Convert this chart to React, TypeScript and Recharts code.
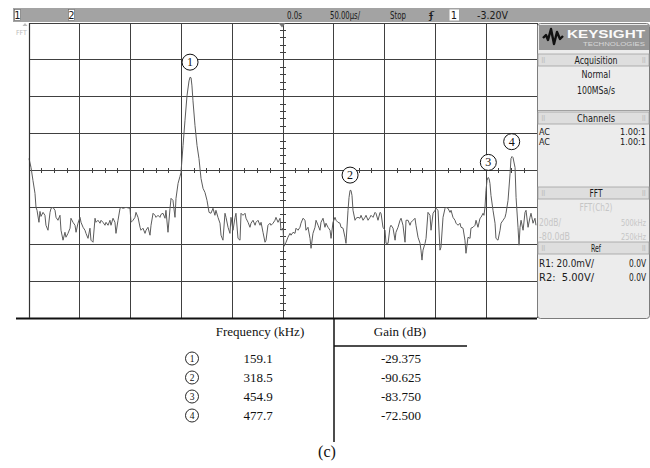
import React from 'react';
import { LineChart, Line, XAxis, YAxis, ReferenceLine, ReferenceDot } from 'recharts';

// FFT trace: [frequency kHz, level dB]
const trace: [number, number][] = [
  [0.0, -73.5], [2.0, -78.4], [3.9, -85.4], [5.9, -92.4], [6.9, -100.0], [7.9, -101.6], [9.8, -108.1], [10.8, -102.2],
  [11.8, -104.9], [13.8, -102.7], [15.7, -104.3], [16.7, -109.7], [18.7, -112.4], [20.7, -102.7], [21.7, -100.5], [23.6, -100.0],
  [25.6, -101.6], [26.6, -105.4], [28.5, -107.0], [30.5, -104.3], [31.5, -112.4], [33.5, -117.8], [35.4, -113.5], [36.4, -116.2],
  [38.4, -114.1], [40.4, -111.3], [41.3, -105.9], [43.3, -108.1], [45.3, -109.7], [46.3, -113.5], [48.2, -108.6], [50.2, -105.4],
  [51.2, -108.1], [53.2, -110.8], [55.1, -112.4], [56.1, -114.1], [58.1, -116.8], [60.0, -111.3], [61.0, -117.8], [63.0, -118.9],
  [65.0, -105.9], [65.9, -108.1], [67.9, -107.0], [69.9, -108.6], [70.9, -107.0], [72.8, -108.1], [74.8, -109.7], [75.8, -108.1],
  [77.8, -109.7], [79.7, -107.0], [80.7, -109.7], [82.7, -105.9], [84.6, -108.1], [85.6, -114.1], [87.6, -107.0], [89.6, -100.5],
  [90.6, -100.0], [92.5, -100.5], [95.5, -100.0], [99.4, -100.5], [100.4, -108.1], [102.4, -107.0], [104.3, -105.4], [105.3, -102.7],
  [107.3, -105.4], [109.3, -110.8], [110.2, -112.4], [112.2, -111.3], [114.2, -114.1], [115.2, -112.4], [117.1, -110.8], [119.1, -115.1],
  [120.1, -109.7], [122.1, -103.2], [124.0, -104.3], [125.0, -105.4], [127.0, -104.3], [128.9, -105.4], [129.9, -103.8], [131.9, -103.2],
  [133.9, -105.9], [134.8, -101.6], [136.8, -113.5], [138.8, -100.5], [139.8, -95.1], [141.7, -96.2], [143.7, -105.4], [144.7, -95.1],
  [146.7, -87.0], [148.6, -83.2], [149.6, -81.1], [151.6, -66.5], [153.5, -53.0], [155.5, -39.5], [157.5, -31.4], [158.5, -29.4],
  [159.5, -29.7], [160.4, -34.1], [161.4, -42.2], [163.4, -55.7], [165.4, -66.5], [167.3, -73.5], [169.3, -84.3], [171.3, -89.7],
  [173.2, -91.9], [175.2, -96.2], [177.2, -102.7], [179.1, -103.2], [181.1, -100.5], [183.0, -104.3], [184.0, -101.6], [186.0, -105.4],
  [188.0, -108.6], [189.0, -115.1], [190.9, -117.8], [192.9, -103.2], [193.9, -105.4], [195.9, -110.8], [197.8, -114.1], [198.8, -105.4],
  [200.8, -112.4], [202.8, -105.4], [203.7, -103.2], [205.7, -116.8], [207.7, -117.8], [208.7, -103.2], [210.6, -104.3], [212.6, -103.2],
  [213.6, -105.9], [215.6, -108.1], [217.5, -110.8], [218.5, -108.6], [220.5, -107.0], [222.5, -109.7], [223.4, -108.1], [225.4, -107.0],
  [227.4, -109.7], [228.4, -108.1], [230.3, -113.5], [232.3, -118.9], [233.3, -117.8], [235.2, -109.7], [237.2, -108.6], [238.2, -109.7],
  [240.2, -108.6], [242.1, -107.0], [243.1, -105.4], [245.1, -108.1], [247.1, -105.9], [248.0, -112.4], [250.0, -111.3], [251.0, -121.1],
  [253.0, -118.9], [254.9, -116.2], [256.9, -114.1], [257.9, -115.1], [259.9, -113.5], [261.8, -114.1], [262.8, -111.3], [264.8, -112.4],
  [266.7, -110.8], [267.7, -108.6], [269.7, -105.9], [271.7, -107.0], [272.6, -112.4], [274.6, -110.8], [276.6, -116.8], [277.6, -122.2],
  [279.5, -114.1], [281.5, -110.8], [282.5, -107.0], [284.5, -109.7], [286.4, -112.4], [287.4, -108.1], [289.4, -105.9], [291.3, -110.8],
  [292.3, -108.6], [294.3, -110.8], [296.3, -112.4], [297.3, -116.8], [299.2, -108.1], [301.2, -105.4], [302.2, -107.0], [304.1, -108.1],
  [306.1, -108.6], [307.1, -110.8], [309.1, -111.3], [311.0, -116.2], [312.0, -119.5], [314.0, -101.6], [315.0, -94.6], [316.0, -90.8],
  [316.9, -90.8], [317.9, -93.5], [318.9, -101.6], [320.9, -107.0], [321.9, -105.9], [323.8, -105.4], [325.8, -105.9], [326.8, -104.3],
  [328.8, -107.0], [330.7, -105.4], [331.7, -104.3], [333.7, -107.0], [335.6, -105.4], [336.6, -104.3], [338.6, -105.4], [340.6, -102.7],
  [341.5, -103.2], [343.5, -107.0], [345.5, -102.7], [346.5, -103.2], [348.4, -110.8], [350.4, -112.4], [351.4, -119.5], [353.4, -119.5],
  [355.3, -110.8], [356.3, -109.7], [358.3, -111.3], [360.3, -117.8], [361.2, -113.5], [363.2, -110.8], [365.2, -107.0], [366.2, -105.9],
  [368.1, -109.7], [370.1, -118.9], [371.1, -107.0], [373.1, -107.0], [375.0, -109.7], [376.0, -108.1], [378.0, -107.0], [379.9, -105.9],
  [380.9, -109.7], [382.9, -116.2], [384.9, -119.5], [385.8, -123.2], [386.8, -128.6], [387.8, -123.2], [389.8, -119.5], [390.8, -116.8],
  [392.7, -102.7], [394.7, -104.3], [395.7, -112.4], [397.7, -103.2], [399.6, -101.6], [400.6, -100.5], [402.6, -101.6], [404.5, -123.2],
  [405.5, -121.6], [407.5, -105.4], [409.5, -100.5], [410.4, -100.0], [412.4, -100.5], [414.4, -102.7], [415.4, -101.6], [417.3, -105.4],
  [419.3, -107.0], [420.3, -108.6], [422.3, -109.7], [424.2, -108.6], [425.2, -110.8], [427.2, -111.3], [429.1, -117.8], [430.1, -124.9],
  [432.1, -116.2], [434.1, -116.8], [435.0, -111.3], [437.0, -110.8], [439.0, -109.7], [440.0, -107.0], [441.9, -110.8], [443.9, -105.9],
  [444.9, -105.4], [446.9, -103.2], [447.8, -104.3], [448.8, -100.0], [449.8, -90.8], [450.8, -85.4], [451.8, -83.8], [452.8, -84.3],
  [453.7, -87.0], [454.7, -93.5], [456.7, -101.6], [458.7, -108.6], [459.6, -116.8], [461.6, -117.8], [463.6, -112.4], [464.6, -108.6],
  [466.6, -107.0], [468.5, -105.4], [469.5, -103.2], [471.5, -96.2], [473.5, -81.6], [474.4, -73.5], [475.4, -72.4], [476.4, -73.0],
  [478.4, -78.4], [479.4, -94.6], [481.3, -110.8], [482.3, -120.5], [483.3, -110.8], [484.3, -107.0], [486.3, -112.4], [488.2, -102.7],
  [489.2, -101.6], [491.2, -110.8], [493.1, -105.4], [494.1, -103.2], [496.1, -108.6], [498.0, -105.9], [499.0, -109.7],
];

// marked peaks (table below the screen)
const peakNo = [1, 2, 3, 4];
const peakFreq = [159.1, 318.5, 454.9, 477.7];
const peakGain = [-29.375, -90.625, -83.75, -72.5];
// where the circled labels sit on the screen (kHz)
const markerFreq = [158.5, 316.0, 452.1, 475.1];

const freqDivs = [0, 50, 100, 150, 200, 250, 300, 350, 400, 450, 500];
const gainDivs = [-160, -140, -120, -100, -80, -60, -40, -20, 0];

const data = trace.map(([f, g]) => ({ f, g }));

const minorF: number[] = [];
for (let f = 12.5; f < 500; f += 12.5) if (f % 50 !== 0) minorF.push(f);
const minorG: number[] = [];
for (let g = -156; g < 0; g += 4) if (g % 20 !== 0) minorG.push(g);

const UI = "'Liberation Sans Narrow', 'DejaVu Sans Condensed', sans-serif";
const SERIF = "'Liberation Serif', 'Times New Roman', serif";
const GRID = '#404040';

const PeakMark = (n: number) => (props: any) => (
  <g>
    <circle cx={props.cx} cy={props.cy - 15} r={8} fill="#fff" stroke="#111" strokeWidth={1} />
    <text x={props.cx} y={props.cy - 11} textAnchor="middle" fontSize={12} fontFamily={SERIF} fill="#111">
      {n}
    </text>
  </g>
);

// scope-style text; with a width w the glyphs are squeezed into it (always laid out from the left)
const T = (p: { x: number; y: number; w?: number; a?: 'start' | 'middle' | 'end'; c?: string; s?: number; children: any }) => {
  const a = p.a || 'start';
  if (p.w) {
    const x0 = a === 'end' ? p.x - p.w : a === 'middle' ? p.x - p.w / 2 : p.x;
    return (
      <text
        x={x0}
        y={p.y}
        fontSize={p.s || 11}
        fontFamily={UI}
        fill={p.c || '#1a1a1a'}
        textLength={p.w}
        lengthAdjust="spacingAndGlyphs"
        style={{ whiteSpace: 'pre' }}
      >
        {p.children}
      </text>
    );
  }
  return (
    <text x={p.x} y={p.y} textAnchor={a} fontSize={p.s || 11} fontFamily={UI} fill={p.c || '#1a1a1a'}>
      {p.children}
    </text>
  );
};

const Header = ({ y, label, w }: { y: number; label: string; w: number }) => (
  <g>
    <rect x={538} y={y} width={111} height={12} fill="#dedede" stroke="#a0a0a0" strokeWidth={0.8} />
    <T x={541} y={y + 9} s={7} c="#aaa">⠿</T>
    <T x={646} y={y + 9} s={7} c="#aaa" a="end">⠿</T>
    <T x={596} y={y + 10} a="middle" w={w}>{label}</T>
  </g>
);

export default function App() {
  return (
    <div style={{ position: 'absolute', left: 0, top: 0, width: 650, height: 468, background: '#fff' }}>
      <div style={{ position: 'absolute', left: 0, top: 0 }}>
        <LineChart width={650} height={320} data={data} margin={{ top: 23, right: 113, bottom: 2, left: 29 }}>
          <XAxis type="number" dataKey="f" domain={[0, 500]} hide />
          <YAxis type="number" domain={[-160, 0]} hide />
          {freqDivs.map((f) => (
            <ReferenceLine key={'v' + f} x={f} stroke={GRID} strokeWidth={1} shapeRendering="crispEdges" />
          ))}
          {gainDivs.map((g) => (
            <ReferenceLine key={'h' + g} y={g} stroke={GRID} strokeWidth={1} shapeRendering="crispEdges" />
          ))}
          {minorF.map((f) => (
            <ReferenceLine key={'mf' + f} segment={[{ x: f, y: -78.6 }, { x: f, y: -81.4 }]} stroke={GRID} shapeRendering="crispEdges" />
          ))}
          {minorG.map((g) => (
            <ReferenceLine key={'mg' + g} segment={[{ x: 247.3, y: g }, { x: 252.7, y: g }]} stroke={GRID} shapeRendering="crispEdges" />
          ))}
          <Line
            type="linear"
            dataKey="g"
            stroke="#5c5c5c"
            strokeWidth={1}
            dot={false}
            isAnimationActive={false}
          />
          {peakNo.map((n, i) => (
            <ReferenceDot key={'p' + n} x={markerFreq[i]} y={peakGain[i]} r={8} shape={PeakMark(n)} />
          ))}
        </LineChart>
      </div>

      <svg width={650} height={468} style={{ position: 'absolute', left: 0, top: 0 }}>
        {/* status bar */}
        <rect x={13} y={8} width={637} height={14} fill="#a3a3a3" />
        <rect x={14.5} y={9.5} width={6} height={11} fill="#fff" stroke="#666" strokeWidth={0.6} />
        <T x={17.5} y={19} a="middle">1</T>
        <rect x={68.5} y={9.5} width={6} height={11} fill="#fff" stroke="#666" strokeWidth={0.6} />
        <T x={71.5} y={19} a="middle">2</T>
        <T x={287} y={19} w={15}>0.0s</T>
        <T x={330} y={19} w={30}>50.00µs/</T>
        <T x={390} y={19} w={16}>Stop</T>
        <T x={429} y={19} w={5}>ʄ</T>
        <rect x={449.5} y={9.5} width={9.5} height={11} fill="#fff" />
        <T x={454} y={19} a="middle">1</T>
        <T x={477} y={19} w={31}>-3.20V</T>

        {/* trigger marker and left label */}
        <path d="M278.5,23 L285.5,23 L282,27.5 Z" fill="#777" />
        <path d="M25,23 L27.5,26 L22.5,26 Z" fill="#bbb" />
        <T x={16} y={35} s={7} c="#bbb">FFT</T>

        {/* bottom border of screen */}
        <line x1={16} y1={318.5} x2={537} y2={318.5} stroke="#111" strokeWidth={2} />
        <line x1={29.5} y1={23} x2={29.5} y2={318} stroke="#333" strokeWidth={1.2} />

        {/* side panel */}
        <rect x={537.5} y={23.5} width={112} height={295} rx={3} fill="#ececec" stroke="#7c7c7c" strokeWidth={1} />
        <rect x={539} y={25} width={110} height={25} fill="#969696" />
        <polyline
          points="543,38 546,35 548,40 551,29 554,44 557,32 560,39 563,36"
          fill="none"
          stroke="#111"
          strokeWidth={2.4}
          strokeLinejoin="round"
        />
        <text x={567} y={38} fontSize={11} fontWeight="bold" fontFamily="'Liberation Sans', sans-serif" fill="#fafafa" textLength={78} lengthAdjust="spacingAndGlyphs">
          KEYSIGHT
        </text>
        <text x={583} y={46} fontSize={5.5} fontFamily="'Liberation Sans', sans-serif" fill="#d8d8d8" textLength={62} lengthAdjust="spacingAndGlyphs">
          TECHNOLOGIES
        </text>

        <Header y={54} label="Acquisition" w={43} />
        <T x={596} y={78} a="middle" w={29}>Normal</T>
        <T x={596} y={94} a="middle" w={38}>100MSa/s</T>
        <line x1={538} y1={110.5} x2={649} y2={110.5} stroke="#a0a0a0" />

        <Header y={112} label="Channels" w={38} />
        <T x={539} y={134.5} s={9.5} w={11}>AC</T>
        <T x={646} y={134.5} s={9.5} a="end" w={26}>1.00:1</T>
        <T x={539} y={145} s={9.5} w={11}>AC</T>
        <T x={646} y={145} s={9.5} a="end" w={26}>1.00:1</T>

        <Header y={187} label="FFT" w={13} />
        <T x={596} y={211} a="middle" c="#c6c6c6" w={33}>FFT(Ch2)</T>
        <T x={539} y={226} c="#c6c6c6" w={22} s={10}>20dB/</T>
        <T x={646} y={226} a="end" c="#c6c6c6" w={25} s={8.5}>500kHz</T>
        <T x={539} y={240} c="#c6c6c6" w={31} s={10}>-80.0dB</T>
        <T x={646} y={240} a="end" c="#c6c6c6" w={25} s={8.5}>250kHz</T>

        <Header y={242} label="Ref" w={10} />
        <T x={539} y={267} w={55}>R1: 20.0mV/</T>
        <T x={646} y={267} a="end" w={17} s={10}>0.0V</T>
        <T x={539} y={281} w={55}>{'R2:  5.00V/'}</T>
        <T x={646} y={281} a="end" w={17} s={10}>0.0V</T>

        {/* peak table */}
        <line x1={334} y1={318} x2={334} y2={442} stroke="#111" strokeWidth={1.5} />
        <line x1={334} y1={346} x2={467} y2={346} stroke="#111" strokeWidth={1.5} />
        <text x={260} y={336} textAnchor="middle" fontSize={13} fontFamily={SERIF} fill="#111">
          Frequency (kHz)
        </text>
        <text x={400} y={336} textAnchor="middle" fontSize={13} fontFamily={SERIF} fill="#111">
          Gain (dB)
        </text>
        {peakNo.map((n, i) => {
          const cy = 358.5 + i * 19;
          return (
            <g key={'row' + n}>
              <circle cx={192} cy={cy} r={6.5} fill="#fff" stroke="#111" strokeWidth={0.9} />
              <text x={192} y={cy + 3.5} textAnchor="middle" fontSize={9.5} fontFamily={SERIF} fill="#111">
                {n}
              </text>
              <text x={258} y={cy + 4.5} textAnchor="middle" fontSize={13} fontFamily={SERIF} fill="#111">
                {peakFreq[i].toFixed(1)}
              </text>
              <text x={401} y={cy + 4.5} textAnchor="middle" fontSize={13} fontFamily={SERIF} fill="#111">
                {peakGain[i].toFixed(3)}
              </text>
            </g>
          );
        })}
        <text x={327} y={457} textAnchor="middle" fontSize={16} fontFamily={SERIF} fill="#111">
          (c)
        </text>
      </svg>
    </div>
  );
}
